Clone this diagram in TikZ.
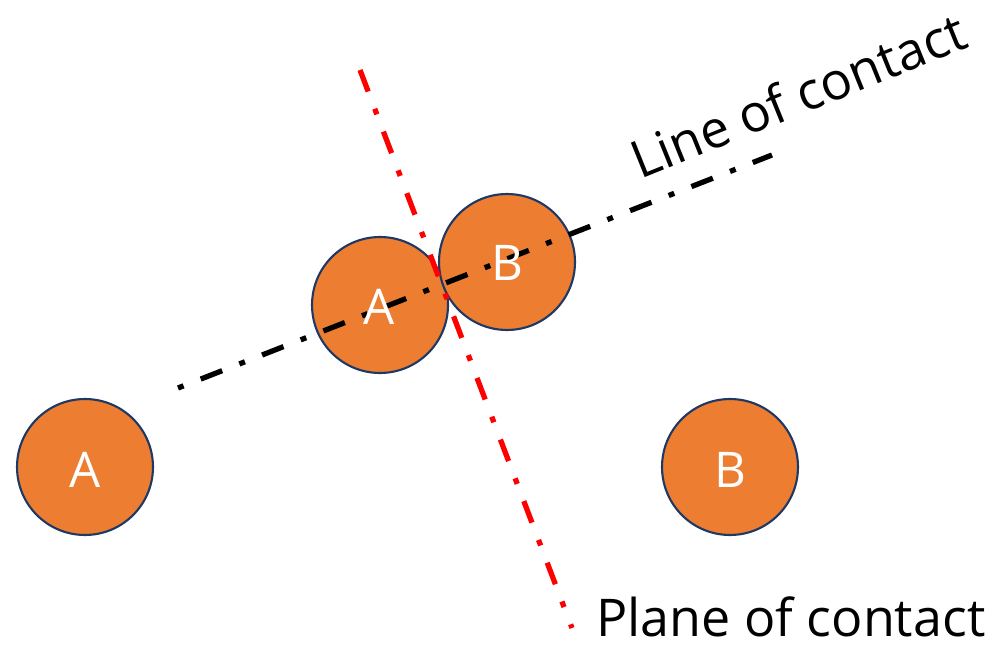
\documentclass[tikz,border=0pt]{standalone}
\usepackage{fontspec}
\setmainfont{Open Sans}
\usetikzlibrary{positioning}
\definecolor{ballfill}{RGB}{237,125,49}
\definecolor{balledge}{RGB}{32,56,100}
\tikzset{
  ball/.style={circle, fill=ballfill, draw=balledge, line width=1.2pt, minimum size=2.72cm, inner sep=0pt},
  balltext/.style={text=white, inner sep=0pt, font=\fontsize{28}{32}\selectfont},
  dashdot/.style={line width=3pt, dash pattern=on 13.1pt off 10.5pt on 3.4pt off 10.5pt},
  dotdash/.style={line width=3pt, dash pattern=on 3.4pt off 10.5pt on 13.1pt off 10.5pt},
  caption/.style={inner sep=0pt, font=\fontsize{29.6}{34}\selectfont}
}

\begin{document}
\begin{tikzpicture}[x=0.02cm, y=-0.02cm]
    \useasboundingbox (0,0) rectangle (994,645);
    % balls before and at impact
    \node[ball] (a0) at (85,467) {};
    \node[ball] (b0) at (730,467) {};
    \node[ball] (a1) at (380,305) {};
    \node[ball] (b1) at (507,262) {};

    % line and plane of contact
    \coordinate (l0) at (178,388);
    \coordinate (l1) at (772,155);
    \coordinate (p0) at (360,70);
    \coordinate (p1) at (572,628);
    \draw[dotdash] (l0) -- (l1);
    \draw[dashdot, red] (p0) -- (p1);

    % labels
    \node[balltext] (ta0) at (85,470) {A};
    \node[balltext] (tb0) at (730,470) {B};
    \node[balltext] (ta1) at (379,307) {A};
    \node[balltext] (tb1) at (507,263) {B};
    \node[caption, anchor=base west, rotate=22] (loc) at (640,180) {Line of contact};
    \node[caption, anchor=base west] (poc) at (596,636) {Plane of contact};
\end{tikzpicture}
\end{document}
